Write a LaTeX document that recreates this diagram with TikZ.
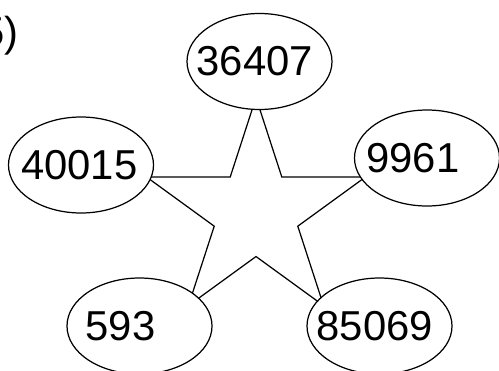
\documentclass[tikz,border=0pt]{standalone}
\usepackage{fontspec}
\setmainfont{Liberation Sans}
\usetikzlibrary{shapes.geometric, positioning}

\begin{document}
\begin{tikzpicture}[
    x=0.2mm, y=-0.2mm,
    oval/.style={draw, ellipse, fill=white, minimum width=2.9cm, minimum height=1.92cm, inner sep=0pt, line width=0.7pt},
    num/.style={inner sep=0pt, font=\fontsize{23.8}{28}\selectfont},
    starline/.style={draw, star, star points=5, star point ratio=2.618, minimum size=4.6cm, inner sep=0pt, line width=0.7pt}
]
    \useasboundingbox (0,0) rectangle (499,370);

    \node[num, anchor=base east] (tag) at (19,46) {(5)};

    \node[starline] (star) at (256,212.6) {};

    \node[oval] (top) at (259.5,61.5) {};
    \node[oval] (left) at (81,165) {};
    \node[oval] (right) at (427,158) {};
    \node[oval] (lowleft) at (139.5,326) {};
    \node[oval] (lowright) at (379.5,326) {};

    \node[num, right=2mm of top.west] (t36407) {36407};
    \node[num, right=2.6mm of left.west] (t40015) {40015};
    \node[num, right=2.4mm of right.west] (t9961) {9961};
    \node[num, right=3.8mm of lowleft.west] (t593) {593};
    \node[num, right=2mm of lowright.west] (t85069) {85069};
\end{tikzpicture}
\end{document}
